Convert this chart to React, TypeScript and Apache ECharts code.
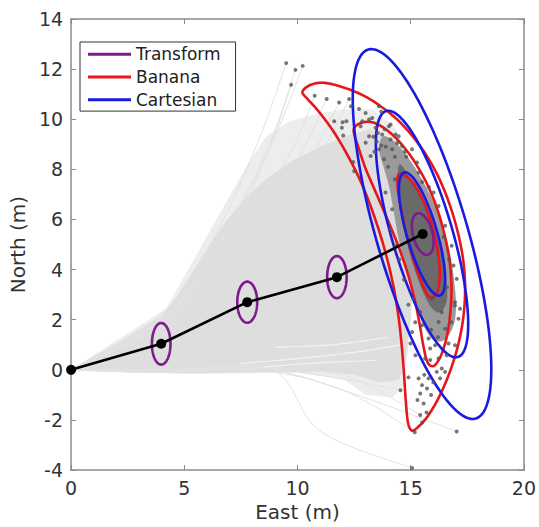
import React, { useEffect, useRef } from "react";
import * as echarts from "echarts";

const FONT = "DejaVu Sans";

// Mean path (black line with dots)
const waypoints = [
  [0, 0],
  [3.98, 1.04],
  [7.78, 2.7],
  [11.74, 3.7],
  [15.53, 5.42],
];

// Transform ellipses: [cx, cy, sigmaX, sigmaY, rho]
const transformEllipses = [
  [3.98, 1.04, 0.41, 0.83, 0],
  [7.78, 2.7, 0.44, 0.82, 0],
  [11.74, 3.7, 0.43, 0.84, 0],
  [15.53, 5.42, 0.48, 0.83, -0.38],
];

// Cartesian Gaussian: mean, sigmas, correlation, contour levels
const cartesianMean = [15.5, 5.42];
const cartesianSigma = [1.02, 2.46];
const cartesianRho = -0.73;
const sigmaLevels = [1, 2, 3];

const bananaInner = [
  [14.45, 7.78], [14.8, 7.72], [15.15, 7.4], [15.55, 6.75], [15.9, 5.9],
  [16.15, 4.95], [16.28, 4.0], [16.22, 3.25], [16.0, 2.9], [15.75, 2.98],
  [15.45, 3.55], [15.1, 4.45], [14.8, 5.45], [14.57, 6.45], [14.43, 7.2],
];
const bananaMiddle = [
  [12.5, 9.65], [12.8, 9.85], [13.3, 9.88], [13.9, 9.6], [14.5, 9.1],
  [15.1, 8.4], [15.65, 7.55], [16.1, 6.6], [16.45, 5.55], [16.7, 4.45],
  [16.8, 3.35], [16.75, 2.3], [16.6, 1.35], [16.35, 0.6], [16.1, 0.22],
  [15.92, 0.15], [15.72, 0.35], [15.55, 1.0], [15.38, 1.9], [15.15, 2.9],
  [14.85, 3.9], [14.45, 4.95], [13.95, 6.05], [13.45, 7.1], [13.0, 8.05],
  [12.7, 8.85], [12.52, 9.35],
];
const bananaOuter = [
  [10.22, 11.1], [10.6, 11.38], [11.2, 11.45], [12.0, 11.28], [12.9, 10.95],
  [13.7, 10.5], [14.45, 9.95], [15.1, 9.3], [15.7, 8.55], [16.25, 7.65],
  [16.7, 6.65], [17.05, 5.6], [17.3, 4.5], [17.4, 3.4], [17.35, 2.3],
  [17.15, 1.2], [16.8, 0.1], [16.3, -1.0], [15.75, -1.85], [15.3, -2.3],
  [15.05, -2.42], [14.88, -2.1], [14.78, -1.2], [14.7, -0.1], [14.6, 1.0],
  [14.45, 2.2], [14.2, 3.5], [13.85, 4.8], [13.4, 6.1], [12.85, 7.4],
  [12.25, 8.5], [11.6, 9.5], [10.9, 10.35], [10.45, 10.8],
];

// Trajectory fan (light grey regions)
const fanLight = [
  [0, 0], [4.2, 2.45], [5.3, 4.2], [6.6, 6.3], [7.8, 8.2], [8.6, 9.3],
  [9.6, 9.9], [10.8, 10.2], [12.0, 10.4], [13.3, 10.4], [14.3, 9.7],
  [15.0, 8.2], [15.2, 6.0], [15.1, 3.5], [14.9, 1.0], [14.7, -0.6],
  [14.2, -1.1], [13.0, -1.0], [12.0, -0.35], [10, -0.12], [6, -0.16], [3, -0.12],
];
const fanDense = [
  [0, 0], [2, 1.05], [4, 2.15], [4.7, 2.95], [5.4, 3.95], [6.1, 4.95],
  [6.9, 6.0], [7.8, 6.95], [8.8, 7.75], [9.8, 8.35], [11.0, 8.9], [12.2, 9.35],
  [13.2, 9.6], [14.0, 9.2], [14.6, 8.0], [14.9, 6.5], [15.1, 5.0], [15.1, 3.5],
  [15.0, 2.0], [14.8, 0.5], [14.5, -0.4], [13.6, -0.5], [12.5, -0.2],
  [11, -0.08], [8, -0.1], [5, -0.15], [2.5, -0.1],
];

// Individual sparse trajectories
const sparsePaths = [
  [[0, 0], [4.2, 2.4], [6.5, 5.6], [8.3, 9.2], [9.5, 12.24]],
  [[0, 0], [4.3, 2.3], [6.8, 5.5], [8.8, 9.1], [9.91, 11.97]],
  [[0, 0], [4.4, 2.3], [7.0, 5.7], [9.0, 9.3], [10.23, 12.13]],
  [[0, 0], [4.3, 2.2], [6.9, 5.2], [8.7, 8.7], [9.72, 11.38]],
  [[0, 0], [4.3, 2.1], [7.3, 5.3], [9.6, 8.5], [10.76, 10.94]],
  [[0, 0], [4.2, 2.0], [7.5, 5.2], [10.0, 8.4], [11.29, 10.81]],
  [[0, 0], [4.2, 1.9], [7.8, 5.0], [10.4, 8.2], [11.84, 10.67]],
  [[0, 0], [4.3, 1.9], [8.0, 5.1], [10.8, 8.3], [12.28, 10.81]],
  [[0, 0], [4.0, -0.1], [8.8, 0.05], [11.0, -2.45], [15.06, -3.92]],
  [[0, 0], [4.1, -0.1], [8.2, 0.0], [12.0, -0.8], [15.18, -2.49]],
  [[0, 0], [4.0, 0.0], [8.3, 0.1], [12.3, -0.9], [17.03, -2.46]],
  [[0, 0], [4.0, -0.05], [8.5, 0.05], [12.2, -0.4], [14.55, -0.81]],
  [[0, 0], [4.0, 0], [8.0, 0.1], [12.0, -0.2], [15.42, -1.8]],
];
const whiteStreaks = [
  [[7.5, 0.25], [10, 0.45], [12.5, 0.7], [14.6, 1.0]],
  [[8.5, 0.12], [11, 0.28], [13.5, 0.38]],
  [[9, 0.9], [11.5, 1.0], [14, 1.3]],
];

// Sample cloud (dense parts)
const cloudOuter = [
  [13.75, 9.3], [14.15, 9.2], [14.7, 8.7], [15.3, 7.9], [15.9, 6.9], [16.35, 5.9],
  [16.7, 4.8], [16.9, 3.7], [17.0, 2.6], [16.9, 1.8], [16.5, 1.2], [16.0, 1.2],
  [15.6, 1.7], [15.3, 2.4], [15.0, 3.3], [14.7, 4.3], [14.45, 5.3], [14.25, 6.3],
  [14.05, 7.3], [13.8, 8.1], [13.6, 8.8],
];
const cloudCore = [
  [14.5, 8.2], [15.0, 7.6], [15.6, 6.7], [16.05, 5.7], [16.35, 4.7], [16.55, 3.7],
  [16.6, 2.8], [16.3, 2.3], [15.9, 2.5], [15.5, 3.2], [15.1, 4.2], [14.8, 5.2],
  [14.6, 6.2], [14.45, 7.2],
];

// Individual samples
const samples = [
  [9.5, 12.24], [9.91, 11.97], [10.23, 12.13], [9.72, 11.38],
  [10.76, 10.94], [11.29, 10.81], [11.84, 10.67], [12.28, 10.81], [11.62, 9.92],
  [11.99, 9.88], [12.16, 9.92], [11.96, 9.66], [12.02, 9.35], [12.46, 8.29],
  [12.36, 10.52], [12.72, 10.41], [13.01, 10.25], [13.6, 10.52], [13.3, 10.05],
  [12.86, 9.92], [12.79, 9.72], [13.16, 9.99], [12.5, 7.93], [13.45, 9.66],
  [14.04, 9.72], [14.11, 9.19], [13.74, 9.39], [13.16, 9.32], [13.01, 9.06],
  [14.33, 9.39], [13.6, 8.8], [13.23, 8.53], [14.18, 8.8], [14.62, 8.93],
  [13.82, 8.4], [13.7, 10.3], [14.11, 9.79], [14.47, 9.32], [15.28, 8.27],
  [15.06, 8.8], [14.75, 8.7], [15.35, 7.87],
  [16.01, 7.08], [16.23, 6.54], [16.52, 5.75], [16.81, 4.95], [16.89, 4.16],
  [17.03, 3.63], [16.96, 2.7],
  [14.11, 5.62], [14.33, 4.95], [14.18, 6.41], [13.89, 7.08],
  [15.13, 2.84], [15.42, 2.31], [15.5, 1.78], [15.79, 1.25], [15.86, 0.85],
  [16.23, 0.45], [16.37, 0.05], [16.15, -0.08], [15.79, -0.34], [15.5, -0.61],
  [15.42, -0.94], [15.57, -1.34], [15.42, -1.8], [15.18, -2.49], [17.03, -2.46],
  [14.55, -0.81], [14.99, 1.05], [15.35, -0.34], [15.72, -0.74], [15.86, 0.39],
  [16.59, 0.58], [16.67, 1.05], [16.96, 0.98], [16.52, 1.64], [17.11, 2.04],
  [16.96, 2.57], [17.18, 2.44], [16.37, 2.31], [16.08, 0.98], [15.64, 0.45],
  [15.93, 2.84], [16.23, 1.91], [15.21, 0.58], [16.52, -0.08], [16.3, -0.34],
  [15.06, 1.51], [15.06, -3.92],
  [13.9, 8.9], [14.3, 8.5], [13.5, 9.1], [14.0, 8.1], [13.4, 8.7], [14.8, 8.5],
  [15.5, 7.5], [15.8, 7.3], [14.3, 7.6], [16.6, 3.3], [16.7, 4.4], [16.45, 5.3],
  [14.5, 4.4], [14.7, 3.6], [14.9, 2.6], [15.2, 1.9], [16.8, 1.9], [15.9, 1.6],
  [16.2, 1.3], [16.0, -0.5], [15.6, -0.2], [15.9, -1.0], [15.3, -1.2],
  [15.7, -1.7], [15.5, -2.1], [14.9, -0.3],
  [13.55, 9.45], [13.85, 9.6], [13.35, 9.3], [13.7, 8.95], [14.4, 9.05],
];

const PURPLE = "#7e1a8e";
const RED = "#e8161b";
const BLUE = "#1a1ae0";

function ellipseOutline(cx: number, cy: number, sx: number, sy: number, rho: number, k: number) {
  const pts: number[][] = [];
  const n = 120;
  const s = Math.sqrt(1 - rho * rho);
  for (let i = 0; i < n; i++) {
    const t = (2 * Math.PI * i) / n;
    pts.push([cx + k * sx * Math.cos(t), cy + k * sy * (rho * Math.cos(t) + s * Math.sin(t))]);
  }
  return pts;
}

// Catmull-Rom smoothing of an outline in pixel space (rendering only)
function catmull(pts: number[][], closed: boolean, seg = 8) {
  const n = pts.length;
  if (n < 3) return pts;
  const out: number[][] = [];
  const get = (i: number) => {
    if (closed) return pts[((i % n) + n) % n];
    return pts[Math.max(0, Math.min(n - 1, i))];
  };
  const last = closed ? n : n - 1;
  for (let i = 0; i < last; i++) {
    const p0 = get(i - 1), p1 = get(i), p2 = get(i + 1), p3 = get(i + 2);
    for (let j = 0; j < seg; j++) {
      const t = j / seg, t2 = t * t, t3 = t2 * t;
      const f = (a: number, b: number, c: number, d: number) =>
        0.5 * (2 * b + (-a + c) * t + (2 * a - 5 * b + 4 * c - d) * t2 + (-a + 3 * b - 3 * c + d) * t3);
      out.push([f(p0[0], p1[0], p2[0], p3[0]), f(p0[1], p1[1], p2[1], p3[1])]);
    }
  }
  if (!closed) out.push(pts[n - 1]);
  return out;
}

function shapeSeries(
  name: string | undefined,
  shapes: number[][][],
  style: any,
  closed: boolean,
  smooth: boolean,
  color?: string
) {
  return {
    type: "custom",
    name,
    coordinateSystem: "cartesian2d",
    silent: true,
    itemStyle: color ? { color } : undefined,
    data: shapes.map((s) => s[0]),
    renderItem: (params: any, api: any) => {
      let pts = shapes[params.dataIndex].map((p) => api.coord(p));
      if (smooth) pts = catmull(pts, closed);
      return {
        type: closed ? "polygon" : "polyline",
        shape: { points: pts },
        style,
      };
    },
  };
}

export default function App() {
  const ref = useRef<HTMLDivElement>(null);
  useEffect(() => {
    if (!ref.current) return;
    const chart = echarts.init(ref.current, null, { renderer: "svg" });

    const transformShapes = transformEllipses.map(([cx, cy, sx, sy, r]) =>
      ellipseOutline(cx, cy, sx, sy, r, 1)
    );
    const cartesianShapes = sigmaLevels.map((k) =>
      ellipseOutline(cartesianMean[0], cartesianMean[1], cartesianSigma[0], cartesianSigma[1], cartesianRho, k)
    );

    const axisColor = "#8a8a8a";
    const xBase = {
      type: "value",
      min: 0,
      max: 20,
      interval: 5,
      splitLine: { show: false },
      axisLine: { show: true, onZero: false, lineStyle: { color: axisColor, width: 1.5 } },
      axisTick: { show: true, inside: true, length: 5, lineStyle: { color: axisColor, width: 1 } },
    };
    const yBase = {
      type: "value",
      min: -4,
      max: 14,
      interval: 2,
      splitLine: { show: false },
      axisLine: { show: true, onZero: false, lineStyle: { color: axisColor, width: 1.5 } },
      axisTick: { show: true, inside: true, length: 5, lineStyle: { color: axisColor, width: 1 } },
    };

    const option: any = {
      animation: false,
      textStyle: { fontFamily: FONT },
      grid: { left: 70, top: 19, width: 456, height: 453, containLabel: false },
      xAxis: [
        {
          ...xBase,
          position: "bottom",
          axisLabel: { fontSize: 19, color: "#333", margin: 8, fontFamily: FONT },
          name: "East (m)",
          nameLocation: "middle",
          nameGap: 31,
          nameTextStyle: { fontSize: 20, color: "#333", fontFamily: FONT },
        },
        { ...xBase, position: "top", axisLabel: { show: false } },
      ],
      yAxis: [
        {
          ...yBase,
          position: "left",
          axisLabel: { fontSize: 19, color: "#333", margin: 8, fontFamily: FONT },
          name: "North (m)",
          nameLocation: "middle",
          nameGap: 40,
          nameTextStyle: { fontSize: 20, color: "#333", fontFamily: FONT },
        },
        { ...yBase, position: "right", axisLabel: { show: false } },
      ],
      legend: {
        data: ["Transform", "Banana", "Cartesian"],
        orient: "vertical",
        left: 80,
        top: 42,
        padding: [2, 15, 1, 8],
        itemGap: 2,
        itemWidth: 43,
        itemHeight: 3,
        icon: "rect",
        backgroundColor: "#fff",
        borderColor: "#333",
        borderWidth: 1,
        borderRadius: 0,
        textStyle: { fontSize: 17, color: "#222", fontFamily: FONT, lineHeight: 20.7 },
        selectedMode: false,
      },
      series: [
        shapeSeries(undefined, [fanLight], { fill: "#ededed", stroke: "none" }, true, false),
        shapeSeries(undefined, [fanDense], { fill: "#dedede", stroke: "none" }, true, false),
        shapeSeries(undefined, sparsePaths, { fill: "none", stroke: "#e2e2e2", lineWidth: 1 }, false, true),
        shapeSeries(undefined, whiteStreaks, { fill: "none", stroke: "#f2f2f2", lineWidth: 1.2 }, false, true),
        shapeSeries(undefined, [cloudOuter], { fill: "#9a9a9a", stroke: "none" }, true, true),
        shapeSeries(undefined, [cloudCore], { fill: "#6a6a6a", stroke: "none" }, true, true),
        {
          type: "scatter",
          silent: true,
          symbolSize: 4,
          itemStyle: { color: "#555" },
          data: samples,
        },
        shapeSeries(
          "Banana",
          [bananaOuter, bananaMiddle, bananaInner],
          { fill: "none", stroke: RED, lineWidth: 2.6 },
          true,
          true,
          RED
        ),
        shapeSeries(
          "Cartesian",
          cartesianShapes,
          { fill: "none", stroke: BLUE, lineWidth: 2.6 },
          true,
          false,
          BLUE
        ),
        {
          type: "line",
          silent: true,
          data: waypoints,
          symbol: "circle",
          symbolSize: 10,
          showAllSymbol: true,
          lineStyle: { color: "#000", width: 2.6 },
          itemStyle: { color: "#000" },
          z: 3,
        },
        {
          ...shapeSeries(
            "Transform",
            transformShapes,
            { fill: "none", stroke: PURPLE, lineWidth: 2.6 },
            true,
            false,
            PURPLE
          ),
          z: 2,
        },
      ],
    };
    chart.setOption(option);
    return () => chart.dispose();
  }, []);
  return (
    <div
      ref={ref}
      style={{ position: "absolute", left: 0, top: 0, width: 539, height: 527, background: "#fff" }}
    />
  );
}
